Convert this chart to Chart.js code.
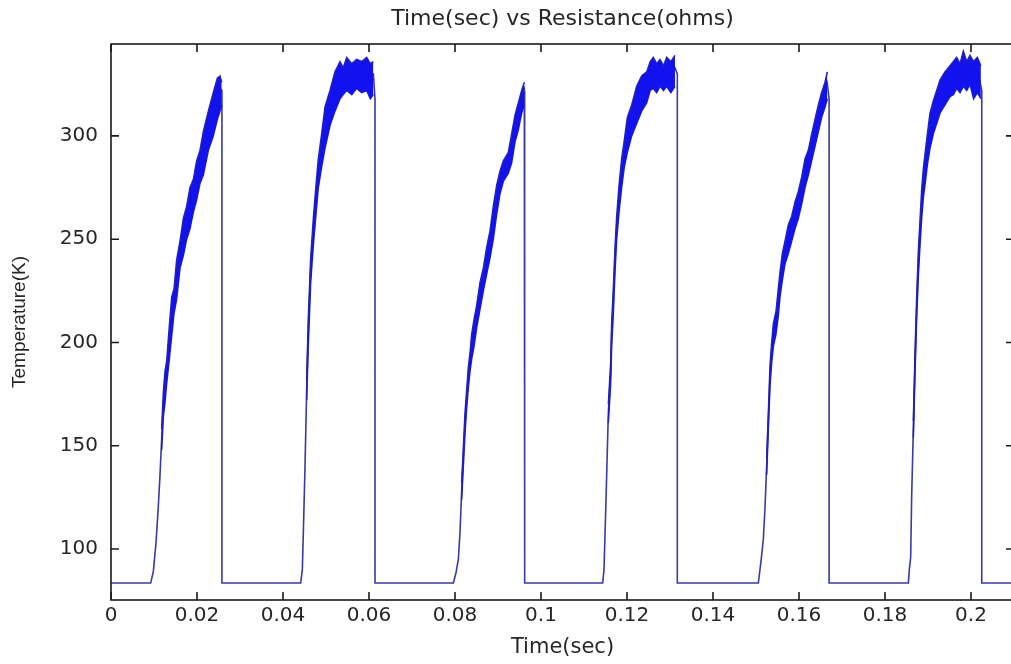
<!DOCTYPE html>
<html><head><meta charset="utf-8">
<script src="https://cdn.jsdelivr.net/npm/chart.js@4.4.1/dist/chart.umd.min.js"></script>
<style>
html,body{margin:0;padding:0;background:#fff;overflow:hidden;width:1011px;height:664px;}
#wrap{width:1011px;height:664px;overflow:hidden;position:relative;}
canvas{display:block;}
</style></head><body>
<div id="wrap"><canvas id="c" width="1020" height="664"></canvas></div>
<script>
// ---- data ----
const xTicks = [0,0.02,0.04,0.06,0.08,0.1,0.12,0.14,0.16,0.18,0.2];
const yTicks = [100,150,200,250,300];
const baseLevel = 83.5;
const tStart = 0, tEnd = 0.21;

const p1T = [0.00923,0.00984,0.01047,0.01101,0.01140,0.01178,0.01217,0.01256,0.01295,0.01357,0.01411,0.01465,0.01527,0.01605,0.01682,0.01760,0.01837,0.01915,0.01992,0.02070,0.02147,0.02264,0.02380,0.02473,0.02535,0.02580,0.02580];
const p1V = [83.5,89,103,121,136,153,170,178,186,200,213,220,230,243,250,258,265,271,278,285,291,303,311,318,323,322,83.5];
const b1T = [0.01178,0.01217,0.01256,0.01295,0.01357,0.01411,0.01465,0.01527,0.01605,0.01682,0.01760,0.01837,0.01915,0.01992,0.02070,0.02147,0.02264,0.02380,0.02473,0.02535,0.02575];
const b1Hi = [158,176,186,191,208,222,226,240,249,260,266,275,279,288,293,302,312,321,328,329,326];
const b1Lo = [148,164,171,180,192,203,214,221,236,242,250,255,263,269,277,281,293,300,308,312,315];

const p2T = [0.04411,0.04450,0.04473,0.04512,0.04550,0.04589,0.04644,0.04705,0.04767,0.04822,0.04899,0.04977,0.05093,0.05209,0.05326,0.05481,0.05713,0.05946,0.06101,0.06140,0.06140];
const p2V = [83.5,90,108,140,177,206,236,254,269,282,293,304,314,322,327,330,331,331,330,318,83.5];
const b2T = [0.04550,0.04589,0.04644,0.04705,0.04767,0.04822,0.04899,0.04977,0.05093,0.05209,0.05326,0.05400,0.05481,0.05600,0.05713,0.05830,0.05946,0.06030,0.06101];
const b2Hi = [182,212,241,260,276,289,301,314,322,331,336,333,338,335,337,336,338,335,336];
const b2Lo = [172,199,229,247,262,275,285,294,305,312,318,320,322,320,323,321,322,318,320];

const p3T = [0.07961,0.08023,0.08078,0.08116,0.08155,0.08194,0.08233,0.08271,0.08310,0.08349,0.08388,0.08442,0.08504,0.08581,0.08659,0.08736,0.08814,0.08891,0.08969,0.09047,0.09124,0.09240,0.09318,0.09395,0.09473,0.09550,0.09612,0.09620,0.09620];
const p3V = [83.5,88.5,95,108,128,145,161,173,183,191,198,205,213,223,231,240,248,258,270,278,283,287,294,304,310,317,322,322,83.5];
const b3T = [0.08155,0.08194,0.08233,0.08271,0.08310,0.08349,0.08388,0.08442,0.08504,0.08581,0.08659,0.08736,0.08814,0.08891,0.08969,0.09047,0.09124,0.09240,0.09318,0.09395,0.09473,0.09550,0.09612];
const b3Hi = [132,149,166,177,188,195,204,211,218,229,236,246,254,266,276,283,288,292,301,310,316,322,326];
const b3Lo = [124,140,156,168,178,186,192,198,207,216,225,233,241,250,262,272,278,282,287,297,303,311,315];

const p4T = [0.11434,0.11465,0.11512,0.11566,0.11620,0.11643,0.11682,0.11721,0.11760,0.11814,0.11876,0.11938,0.12008,0.12109,0.12225,0.12341,0.12457,0.12612,0.12767,0.12922,0.13116,0.13170,0.13170];
const p4V = [83.5,90,124,166,185,204,220,240,256,270,282,292,301,308,316,321,324,330,331,331,333,330,83.5];
const b4T = [0.11566,0.11620,0.11643,0.11682,0.11721,0.11760,0.11814,0.11876,0.11938,0.12008,0.12109,0.12225,0.12341,0.12457,0.12540,0.12612,0.12690,0.12767,0.12850,0.12922,0.13020,0.13116];
const b4Hi = [170,190,209,226,246,261,276,289,298,309,315,324,329,331,336,338,335,337,334,338,336,339];
const b4Lo = [161,180,198,214,234,250,263,275,285,292,300,306,312,316,322,323,321,324,322,324,321,324];

const p5T = [0.15054,0.15093,0.15132,0.15171,0.15209,0.15248,0.15287,0.15326,0.15364,0.15403,0.15465,0.15519,0.15558,0.15612,0.15674,0.15752,0.15829,0.15907,0.15984,0.16062,0.16140,0.16217,0.16295,0.16372,0.16450,0.16527,0.16605,0.16659,0.16700,0.16700];
const p5V = [83.5,90,97,105,120,140,162,184,195,204,210,220,229,237,244,250,255,262,267,274,282,287,295,302,309,315,320,325,318,83.5];
const b5T = [0.15248,0.15287,0.15326,0.15364,0.15403,0.15465,0.15519,0.15558,0.15612,0.15674,0.15752,0.15829,0.15907,0.15984,0.16062,0.16140,0.16217,0.16295,0.16372,0.16450,0.16527,0.16605,0.16659];
const b5Hi = [144,166,189,200,209,215,226,234,243,249,257,261,268,273,280,289,293,301,308,315,321,326,331];
const b5Lo = [136,158,179,190,198,204,213,222,230,238,243,249,255,260,267,275,281,288,295,302,309,314,318];

const p6T = [0.18543,0.18566,0.18597,0.18620,0.18659,0.18698,0.18737,0.18775,0.18814,0.18853,0.18891,0.18946,0.18992,0.19047,0.19124,0.19202,0.19279,0.19395,0.19512,0.19667,0.19822,0.19977,0.20147,0.20250,0.20250];
const p6V = [83.5,90,96,125,158,190,217,238,253,267,277,287,295,303,309,314,319,324,327,330,332,333,333,322,83.5];
const b6T = [0.18659,0.18698,0.18737,0.18775,0.18814,0.18853,0.18891,0.18946,0.18992,0.19047,0.19124,0.19202,0.19279,0.19395,0.19512,0.19590,0.19667,0.19745,0.19822,0.19900,0.19977,0.20060,0.20147,0.20230];
const b6Hi = [162,195,222,244,259,274,284,294,302,311,317,322,327,331,334,336,338,335,341,336,339,336,338,334];
const b6Lo = [154,185,212,232,247,260,270,279,287,294,301,306,311,315,319,320,323,321,324,322,325,318,321,318];

// ---- build datasets ----
const pulses = [[p1T,p1V],[p2T,p2V],[p3T,p3V],[p4T,p4V],[p5T,p5V],[p6T,p6V]];
const bands = [[b1T,b1Hi,b1Lo],[b2T,b2Hi,b2Lo],[b3T,b3Hi,b3Lo],[b4T,b4Hi,b4Lo],[b5T,b5Hi,b5Lo],[b6T,b6Hi,b6Lo]];
const signal = [{x:tStart,y:baseLevel}];
pulses.forEach(([t,v]) => t.forEach((tt,i)=>signal.push({x:tt,y:v[i]})));
signal.push({x:tEnd,y:baseLevel});

const BAND = '#1212ee', EDGE = '#2222b8', LINE = '#3a3aa2';
const datasets = [];
bands.forEach(([t,hi,lo]) => {
  datasets.push({data:t.map((tt,i)=>({x:tt,y:hi[i]})), borderColor:EDGE, borderWidth:1.5,
    backgroundColor:BAND, fill:'+1', pointRadius:0, tension:0, order:1});
  datasets.push({data:t.map((tt,i)=>({x:tt,y:lo[i]})), borderColor:EDGE, borderWidth:1.5,
    fill:false, pointRadius:0, tension:0, order:1});
});
datasets.push({label:'Temperature', data:signal, borderColor:LINE, borderWidth:1.6,
  fill:false, pointRadius:0, tension:0, order:2});

const frame = {
  id:'frame',
  afterDatasetsDraw(chart){
    const {ctx, chartArea:{left,right,top,bottom}, scales:{x,y}} = chart;
    ctx.save();
    ctx.strokeStyle='#1a1a1a'; ctx.lineWidth=1.6;
    ctx.strokeRect(left,top,right-left,bottom-top);
    ctx.beginPath();
    x.ticks.forEach(t=>{const p=x.getPixelForValue(t.value);
      ctx.moveTo(p,bottom); ctx.lineTo(p,bottom-8); ctx.moveTo(p,top); ctx.lineTo(p,top+8);});
    y.ticks.forEach(t=>{const p=y.getPixelForValue(t.value);
      ctx.moveTo(left,p); ctx.lineTo(left+8,p); ctx.moveTo(right,p); ctx.lineTo(right-8,p);});
    ctx.stroke(); ctx.restore();
  }
};

const TXT = '#262626';
new Chart(document.getElementById('c'), {
  type:'line',
  data:{datasets},
  plugins:[frame],
  options:{
    responsive:false, animation:false, devicePixelRatio:1,
    layout:{padding:{left:0,right:6,top:0,bottom:0}},
    plugins:{
      legend:{display:false}, tooltip:{enabled:false},
      title:{display:true, text:'Time(sec) vs Resistance(ohms)', fullSize:false, color:TXT,
        font:{family:'DejaVu Sans', size:22, weight:'normal'}, padding:{top:6,bottom:11.6}}
    },
    scales:{
      x:{type:'linear', min:tStart, max:tEnd,
        afterBuildTicks(s){ s.ticks = xTicks.map(v=>({value:v})); },
        afterFit(s){ s.height = 64; },
        grid:{display:false, drawTicks:false}, border:{display:false},
        ticks:{color:TXT, padding:4, maxRotation:0, autoSkip:false,
          font:{family:'DejaVu Sans', size:20},
          callback:v=>String(+(+v).toFixed(2))},
        title:{display:true, text:'Time(sec)', color:TXT, font:{family:'DejaVu Sans', size:21},
          padding:{top:0,bottom:4}}
      },
      y:{type:'linear', min:75.3, max:344.5,
        afterBuildTicks(s){ s.ticks = yTicks.map(v=>({value:v})); },
        afterFit(s){ s.width = 111; },
        grid:{display:false, drawTicks:false}, border:{display:false},
        ticks:{color:TXT, padding:13, font:{family:'DejaVu Sans', size:20},
          callback:v=>String(v)},
        title:{display:true, text:'Temperature(K)', color:TXT, font:{family:'Liberation Sans', size:19},
          padding:{top:8,bottom:0}}
      }
    }
  }
});
</script>
</body></html>
